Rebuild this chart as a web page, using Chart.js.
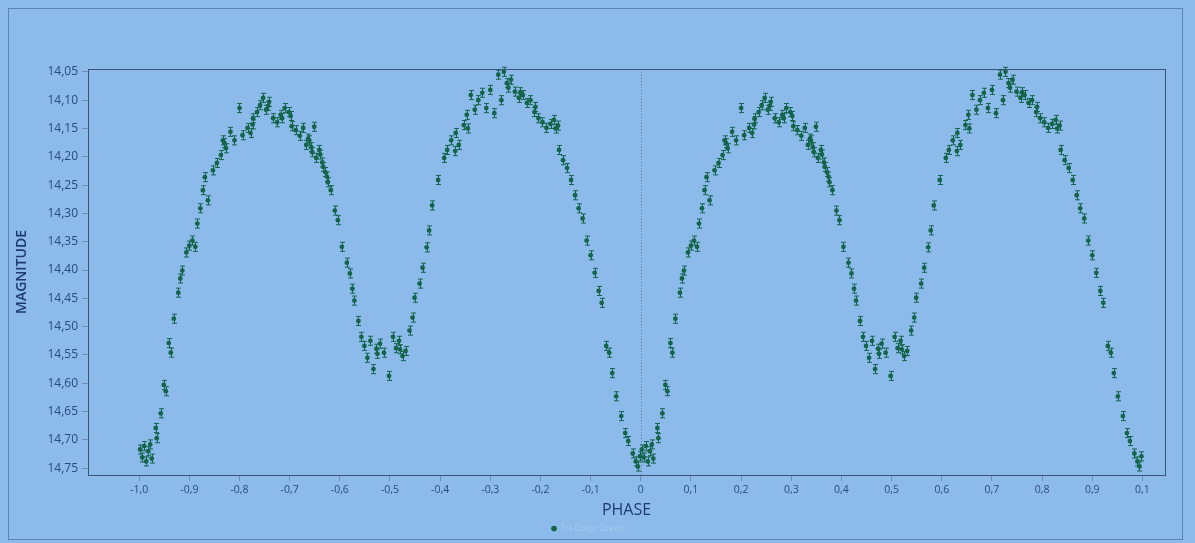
<!DOCTYPE html>
<html lang="en">
<head>
<meta charset="UTF-8">
<title>Light curve - Tri-Color Green</title>
<style>
  html, body { margin: 0; padding: 0; background: #8bbaeb; }
  .wrap { position: relative; width: 1195px; height: 543px; }
  .frame { position: absolute; left: 8px; top: 8px; right: 12px; bottom: 3px; border: 1px solid #5d82b4; pointer-events: none; }
  canvas { position: absolute; left: 0; top: 0; }
</style>
</head>
<body>
<div class="wrap">
  <canvas id="lc" width="1195" height="543"></canvas>
  <div class="frame"></div>
</div>

<script src="https://cdn.jsdelivr.net/npm/chart.js@4.4.1/dist/chart.umd.min.js"></script>
<script>
// one folded cycle, phase 0..1 (plotted again at phase - 1)
const phase = [
  0.002, 0.006, 0.010, 0.014, 0.018, 0.022, 0.025, 0.033, 0.035, 0.043,
  0.049, 0.053, 0.059, 0.063, 0.069, 0.078, 0.082, 0.086, 0.094, 0.100,
  0.106, 0.112, 0.116, 0.122, 0.127, 0.131, 0.137, 0.147, 0.155, 0.163,
  0.167, 0.170, 0.173, 0.182, 0.190, 0.200, 0.206, 0.216, 0.222, 0.226,
  0.227, 0.235, 0.241, 0.247, 0.253, 0.257, 0.259, 0.267, 0.275, 0.282,
  0.285, 0.290, 0.298, 0.302, 0.304, 0.312, 0.320, 0.327, 0.333, 0.337,
  0.339, 0.343, 0.345, 0.349, 0.353, 0.359, 0.361, 0.365, 0.367, 0.371,
  0.374, 0.376, 0.382, 0.390, 0.396, 0.404, 0.414, 0.420, 0.425, 0.429,
  0.437, 0.443, 0.449, 0.455, 0.461, 0.467, 0.473, 0.475, 0.480, 0.488,
  0.498, 0.506, 0.512, 0.518, 0.520, 0.525, 0.531, 0.539, 0.545, 0.549,
  0.559, 0.565, 0.573, 0.578, 0.584, 0.596, 0.608, 0.614, 0.622, 0.630,
  0.631, 0.637, 0.647, 0.653, 0.655, 0.661, 0.669, 0.676, 0.684, 0.692,
  0.700, 0.708, 0.716, 0.722, 0.727, 0.733, 0.736, 0.741, 0.749, 0.757,
  0.760, 0.765, 0.773, 0.780, 0.788, 0.790, 0.796, 0.804, 0.812, 0.820,
  0.827, 0.830, 0.835, 0.837, 0.845, 0.853, 0.861, 0.869, 0.876, 0.884,
  0.892, 0.900, 0.908, 0.916, 0.922, 0.931, 0.937, 0.943, 0.951, 0.961,
  0.969, 0.975, 0.984, 0.990, 0.994, 0.998
];
const mag = [
  14.717, 14.731, 14.711, 14.738, 14.720, 14.708, 14.733, 14.679, 14.697, 14.653,
  14.603, 14.614, 14.529, 14.546, 14.486, 14.440, 14.415, 14.401, 14.369, 14.357,
  14.348, 14.359, 14.318, 14.291, 14.259, 14.236, 14.277, 14.224, 14.211, 14.197,
  14.171, 14.176, 14.185, 14.156, 14.171, 14.114, 14.162, 14.149, 14.158, 14.143,
  14.132, 14.121, 14.109, 14.096, 14.117, 14.110, 14.103, 14.132, 14.139, 14.126,
  14.132, 14.114, 14.121, 14.128, 14.146, 14.153, 14.163, 14.149, 14.179, 14.168,
  14.171, 14.183, 14.192, 14.147, 14.202, 14.188, 14.196, 14.210, 14.218, 14.227,
  14.235, 14.245, 14.259, 14.295, 14.312, 14.359, 14.387, 14.406, 14.433, 14.454,
  14.490, 14.518, 14.534, 14.555, 14.525, 14.575, 14.539, 14.548, 14.530, 14.546,
  14.587, 14.518, 14.538, 14.525, 14.540, 14.552, 14.543, 14.507, 14.484, 14.449,
  14.424, 14.396, 14.360, 14.330, 14.286, 14.241, 14.202, 14.188, 14.171, 14.190,
  14.158, 14.179, 14.144, 14.126, 14.150, 14.091, 14.117, 14.100, 14.087, 14.114,
  14.082, 14.123, 14.055, 14.100, 14.050, 14.070, 14.078, 14.064, 14.085, 14.096,
  14.086, 14.091, 14.105, 14.100, 14.121, 14.112, 14.132, 14.139, 14.149, 14.142,
  14.135, 14.150, 14.145, 14.188, 14.206, 14.220, 14.241, 14.268, 14.291, 14.309,
  14.348, 14.374, 14.405, 14.437, 14.458, 14.534, 14.546, 14.582, 14.623, 14.658,
  14.688, 14.702, 14.724, 14.738, 14.747, 14.729
];
const magErr = 0.008;

const xTicks = [-1, -0.9, -0.8, -0.7, -0.6, -0.5, -0.4, -0.3, -0.2, -0.1, 0,
                0.1, 0.2, 0.3, 0.4, 0.5, 0.6, 0.7, 0.8, 0.9, 1];
const xTickLabels = ['-1,0', '-0,9', '-0,8', '-0,7', '-0,6', '-0,5', '-0,4', '-0,3', '-0,2', '-0,1', '0',
                     '0,1', '0,2', '0,3', '0,4', '0,5', '0,6', '0,7', '0,8', '0,9', '0,1'];
const yTicks = [14.05, 14.10, 14.15, 14.20, 14.25, 14.30, 14.35, 14.40,
                14.45, 14.50, 14.55, 14.60, 14.65, 14.70, 14.75];

const points = phase.map((p, i) => ({ x: p - 1, y: mag[i] }))
  .concat(phase.map((p, i) => ({ x: p, y: mag[i] })));

const green = '#14644a';
const tickColor = '#2b4a7c';
const lineColor = '#3b5378';

const errorBars = {
  id: 'errorBars',
  beforeDatasetsDraw(chart) {
    const { ctx, scales: { x, y } } = chart;
    ctx.save();
    ctx.strokeStyle = green;
    ctx.lineWidth = 1;
    chart.data.datasets[0].data.forEach(d => {
      const px = Math.round(x.getPixelForValue(d.x)) + 0.5;
      const top = y.getPixelForValue(d.y - magErr);
      const bot = y.getPixelForValue(d.y + magErr);
      ctx.beginPath();
      ctx.moveTo(px, top); ctx.lineTo(px, bot);
      ctx.moveTo(px - 2.5, top); ctx.lineTo(px + 2.5, top);
      ctx.moveTo(px - 2.5, bot); ctx.lineTo(px + 2.5, bot);
      ctx.stroke();
    });
    ctx.restore();
  }
};

const zeroLine = {
  id: 'zeroLine',
  beforeDatasetsDraw(chart) {
    const { ctx, chartArea, scales: { x } } = chart;
    const px = Math.round(x.getPixelForValue(0)) + 0.5;
    ctx.save();
    ctx.strokeStyle = '#5c6f8c';
    ctx.lineWidth = 1;
    ctx.setLineDash([1, 2]);
    ctx.beginPath();
    ctx.moveTo(px, chartArea.top);
    ctx.lineTo(px, chartArea.bottom);
    ctx.stroke();
    ctx.restore();
  }
};

const frameBox = {
  id: 'frameBox',
  afterDatasetsDraw(chart) {
    const { ctx, chartArea: a } = chart;
    ctx.save();
    ctx.strokeStyle = lineColor;
    ctx.lineWidth = 1;
    ctx.strokeRect(Math.round(a.left) + 0.5, Math.round(a.top) + 0.5,
                   Math.round(a.width), Math.round(a.height));
    ctx.restore();
  }
};

new Chart(document.getElementById('lc'), {
  type: 'scatter',
  data: {
    datasets: [{
      label: 'Tri-Color Green',
      data: points,
      backgroundColor: green,
      borderColor: green,
      pointRadius: 2.4,
      pointBorderWidth: 0,
      pointHoverRadius: 2.4
    }]
  },
  options: {
    responsive: false,
    animation: false,
    layout: { padding: { left: 12, top: 69, right: 30, bottom: 0 } },
    plugins: {
      tooltip: { enabled: false },
      legend: {
        position: 'bottom',
        labels: {
          usePointStyle: true,
          pointStyle: 'circle',
          boxWidth: 4,
          boxHeight: 4,
          padding: 4,
          color: '#a9c9ec',
          font: { family: 'Open Sans', size: 9 }
        }
      }
    },
    scales: {
      x: {
        type: 'linear',
        min: -1.102,
        max: 1.045,
        afterBuildTicks: s => { s.ticks = xTicks.map(v => ({ value: v })); },
        afterFit: s => { s.height = 45; },
        grid: { drawOnChartArea: false, color: '#6f8cb4', tickLength: 6 },
        border: { display: false },
        ticks: {
          color: tickColor,
          padding: 3,
          maxRotation: 0,
          font: { family: 'Open Sans', size: 10.5 },
          callback: (v, i) => xTickLabels[i]
        },
        title: {
          display: true,
          text: 'PHASE',
          color: '#1f3a6e',
          padding: { top: 0, bottom: 0 },
          font: { family: 'Open Sans', size: 16 }
        }
      },
      y: {
        type: 'linear',
        reverse: true,
        min: 14.045,
        max: 14.762,
        afterBuildTicks: s => { s.ticks = yTicks.map(v => ({ value: v })); },
        afterFit: s => { s.width = 76; },
        grid: { drawOnChartArea: false, color: '#6f8cb4', tickLength: 6 },
        border: { display: false },
        ticks: {
          color: tickColor,
          padding: 4,
          font: { family: 'Open Sans', size: 12 },
          callback: v => v.toFixed(2).replace('.', ',')
        },
        title: {
          display: true,
          text: 'MAGNITUDE',
          color: '#1f3a6e',
          padding: { top: 2, bottom: 0 },
          font: { family: 'Open Sans', size: 14, weight: '600' }
        }
      }
    }
  },
  plugins: [zeroLine, errorBars, frameBox]
});
</script>
</body>
</html>
